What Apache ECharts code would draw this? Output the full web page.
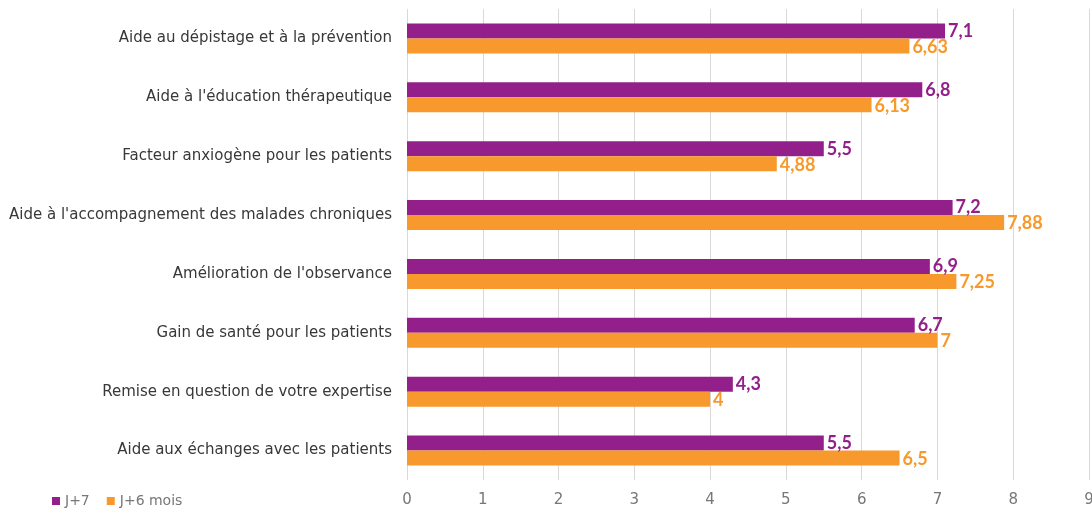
<!DOCTYPE html>
<html>
<head>
<meta charset="utf-8">
<script src="https://cdn.jsdelivr.net/npm/echarts@6/dist/echarts.min.js"></script>
<style>html,body{margin:0;padding:0;background:#fff}#c{width:1092px;height:508px}</style>
</head>
<body>
<div id="c"></div>
<script>
var categories = [
  "Aide au dépistage et à la prévention",
  "Aide à l'éducation thérapeutique",
  "Facteur anxiogène pour les patients",
  "Aide à l'accompagnement des malades chroniques",
  "Amélioration de l'observance",
  "Gain de santé pour les patients",
  "Remise en question de votre expertise",
  "Aide aux échanges avec les patients"
];
var seriesJ7 = [7.1, 6.8, 5.5, 7.2, 6.9, 6.7, 4.3, 5.5];
var seriesJ6m = [6.63, 6.13, 4.88, 7.88, 7.25, 7, 4, 6.5];
var seriesNames = ["J+7", "J+6 mois"];
var xTicks = [0, 1, 2, 3, 4, 5, 6, 7, 8, 9];

var FONT = "'DejaVu Sans', sans-serif";
var LABEL_FONT = "Lato, 'DejaVu Sans', sans-serif";
var PURPLE = "#93208A";
var ORANGE = "#F7992C";
function fmt(p){ return String(p.value).replace('.', ','); }

var chart = echarts.init(document.getElementById('c'));
chart.setOption({
  animation: false,
  textStyle: { fontFamily: FONT },
  grid: { left: 407, right: 3, top: 9, bottom: 28, containLabel: false, outerBoundsMode: 'none' },
  legend: {
    left: 47, bottom: -5,
    itemWidth: 8, itemHeight: 8, itemGap: 17,
    icon: 'rect',
    textStyle: { color: '#777', fontSize: 14, fontFamily: FONT },
    data: seriesNames
  },
  xAxis: {
    type: 'value', min: 0, max: 9, interval: 1,
    axisLine: { show: false }, axisTick: { show: false },
    splitLine: { lineStyle: { color: '#d9d9d9', width: 1 } },
    axisLabel: { color: '#777', fontSize: 15, margin: 13, fontFamily: FONT,
      formatter: function(v){ return xTicks.indexOf(v) >= 0 ? String(v) : ''; } }
  },
  yAxis: {
    type: 'category', data: categories, inverse: true,
    axisLine: { show: false }, axisTick: { show: false },
    axisLabel: { color: '#383838', fontSize: 15, margin: 15, fontFamily: FONT }
  },
  series: [
    { name: seriesNames[0], type: 'bar', data: seriesJ7, barWidth: 15, barGap: '0%',
      itemStyle: { color: PURPLE },
      label: { show: true, position: 'right', distance: 3, formatter: fmt,
        color: PURPLE, fontWeight: 'bold', fontSize: 18, fontFamily: LABEL_FONT, offset: [0, 0] } },
    { name: seriesNames[1], type: 'bar', data: seriesJ6m, barWidth: 15, barGap: '0%',
      itemStyle: { color: ORANGE },
      label: { show: true, position: 'right', distance: 3, formatter: fmt,
        color: ORANGE, fontWeight: 'bold', fontSize: 18, fontFamily: LABEL_FONT, offset: [0, 1] } }
  ]
});
</script>
</body>
</html>
